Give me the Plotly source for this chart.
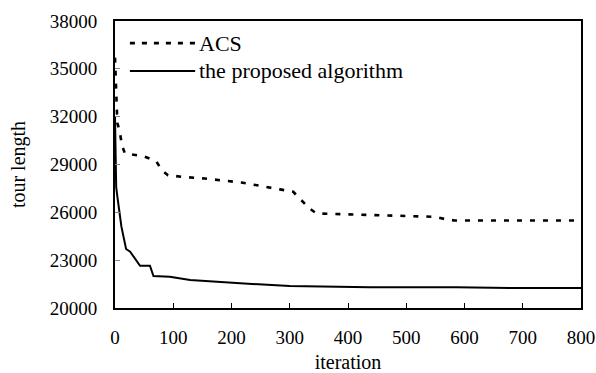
import plotly.graph_objects as go

acs_x = [0, 2, 4, 8, 12, 17, 49, 71, 80, 91, 114, 154, 217, 283, 306, 317, 334, 346, 549, 566, 583, 800]
acs_y = [35700, 33000, 31600, 31100, 30200, 29700, 29520, 29200, 28650, 28330, 28230, 28120, 27870,
         27440, 27290, 26870, 26240, 25930, 25720, 25580, 25490, 25490]

prop_x = [0, 2, 4, 11, 19, 26, 43, 60, 66, 94, 129, 180, 215, 300, 437, 586, 695, 800]
prop_y = [32000, 27600, 27000, 25100, 23700, 23530, 22650, 22650, 22000, 21960, 21750, 21610,
          21550, 21380, 21300, 21300, 21250, 21250]

x_ticks = list(range(0, 801, 100))
y_ticks = list(range(20000, 38001, 3000))
y_tick_labels = [str(v) for v in y_ticks]
x_tick_labels = [str(v) for v in x_ticks]

FONT = "Times New Roman, Liberation Serif, DejaVu Serif, serif"

fig = go.Figure()
fig.add_trace(go.Scatter(x=acs_x, y=acs_y, mode="lines", name="ACS",
                         line=dict(color="black", width=2.6, dash="5px,8px")))
fig.add_trace(go.Scatter(x=prop_x, y=prop_y, mode="lines", name="the proposed algorithm",
                         line=dict(color="black", width=2)))

# legend drawn manually (inside plot area, top-left)
fig.add_shape(type="line", xref="paper", yref="paper", x0=0.032, x1=0.172, y0=0.923, y1=0.923,
              line=dict(color="black", width=2.6, dash="5px,7px"))
fig.add_shape(type="line", xref="paper", yref="paper", x0=0.032, x1=0.172, y0=0.826, y1=0.826,
              line=dict(color="black", width=2))
fig.add_annotation(xref="paper", yref="paper", x=0.176, y=0.923, text="ACS", showarrow=False,
                   xanchor="left", yanchor="middle", font=dict(family=FONT, size=22, color="black"))
fig.add_annotation(xref="paper", yref="paper", x=0.176, y=0.826, text="the proposed algorithm",
                   showarrow=False, xanchor="left", yanchor="middle",
                   font=dict(family=FONT, size=22, color="black"))

fig.update_layout(
    width=596, height=373,
    margin=dict(l=115, r=15, t=21, b=65, autoexpand=False),
    paper_bgcolor="white", plot_bgcolor="white",
    showlegend=False,
    hovermode=False,
    font=dict(family=FONT, size=19, color="black"),
)
fig.update_xaxes(range=[0, 800], tickvals=x_ticks, ticktext=x_tick_labels, ticks="inside", ticklen=5,
                 tickcolor="black", showline=True, linecolor="black", linewidth=2, mirror=True,
                 showgrid=False, zeroline=False, automargin=False, ticklabelstandoff=11,
                 title=dict(text="iteration", standoff=10, font=dict(family=FONT, size=20)),
                 tickfont=dict(family=FONT, size=19))
fig.update_yaxes(range=[20000, 38000], tickvals=y_ticks, ticktext=y_tick_labels, ticks="inside", ticklen=5,
                 tickcolor="#888", showline=True, linecolor="black", linewidth=2, mirror=True,
                 showgrid=False, zeroline=False, automargin=False, ticklabelstandoff=12,
                 title=dict(text="tour length", standoff=19, font=dict(family=FONT, size=20)),
                 tickfont=dict(family=FONT, size=19))

# remove the default 8px page margin so the figure fills the window exactly
fig.write_html("out.html", config={"displayModeBar": False},
               post_script="document.body.style.margin='0';")
